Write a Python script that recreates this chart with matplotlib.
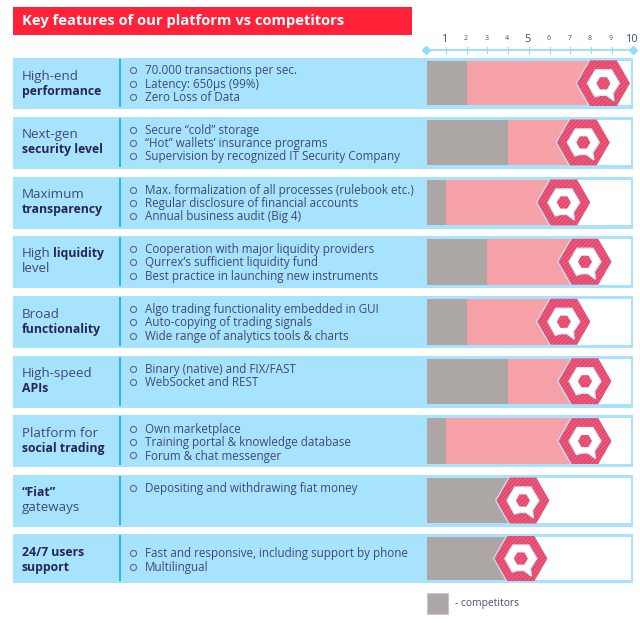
import numpy as np
import matplotlib
matplotlib.use("Agg")
import matplotlib.pyplot as plt
from matplotlib.patches import Polygon, Rectangle

# --- data ---
# each label is two lines of (text, bold?) runs
label_line1 = ["High-end", "Next-gen", "Maximum", "High", "Broad", "High-speed", "Platform for", "\u201cFiat\u201d", "24/7 users"]
label_line2 = ["performance", "security level", "transparency", "level", "functionality", "APIs", "social trading", "gateways", "support"]
line1_bold = [False, False, False, False, False, False, False, True, True]
line2_bold = [True, True, True, False, True, True, True, False, True]
bullets = [
    ["70.000 transactions per sec.", "Latency: 650\u00b5s (99%)", "Zero Loss of Data"],
    ["Secure \u201ccold\u201d storage", "\u201cHot\u201d wallets\u2019 insurance programs", "Supervision by recognized IT Security Company"],
    ["Max. formalization of all processes (rulebook etc.)", "Regular disclosure of financial accounts", "Annual business audit (Big 4)"],
    ["Cooperation with major liquidity providers", "Qurrex\u2019s sufficient liquidity fund", "Best practice in launching new instruments"],
    ["Algo trading functionality embedded in GUI", "Auto-copying of trading signals", "Wide range of analytics tools & charts"],
    ["Binary (native) and FIX/FAST", "WebSocket and REST"],
    ["Own marketplace", "Training portal & knowledge database", "Forum & chat messenger"],
    ["Depositing and withdrawing fiat money"],
    ["Fast and responsive, including support by phone", "Multilingual"],
]
competitors = [2, 4, 1, 3, 2, 4, 1, 4, 4]
platform = [8.6, 7.63, 6.69, 7.71, 6.69, 7.71, 7.71, 4.72, 4.62]
scale_ticks = list(range(1, 11))

W, H = 640, 623
BLUE = "#a8e3fd"
GRAY = "#aca7a5"
PINK = "#f6a0a8"
RED = "#e5486c"
SPECK = "#f08aa2"
INK = "#3f4a6e"
DARK = "#26264f"
plt.rcParams["font.family"] = ["Open Sans", "DejaVu Sans"]
plt.rcParams["hatch.linewidth"] = 0.3

row_tops = [58.3, 116.7, 176.7, 236, 296, 355.5, 415.3, 475, 534.3]
row_hs = [50.5, 52, 52, 52, 52, 52, 52, 51.5, 49]
first_bullet = [12, 13, 13, 13, 13, 13.5, 13.5, 13, 19]

fig = plt.figure(figsize=(W / 100, H / 100), dpi=100)
# page axes in pixels, used for the text and row backgrounds
page = fig.add_axes([0, 0, 1, 1])
page.set_xlim(0, W)
page.set_ylim(H, 0)
page.axis("off")

page.add_patch(Rectangle((13, 7), 399, 28, color="#ff2238", lw=0))
page.text(22, 21, "Key features of our platform vs competitors", color="white",
          fontsize=10.6, fontweight="bold", va="center")

for i, top in enumerate(row_tops):
    h = row_hs[i]
    page.add_patch(Rectangle((13, top), 620, h, color=BLUE, lw=0))
    page.plot([120, 120], [top + 2, top + h - 3], color="#29b6e8", lw=1.4)
    y1, y2 = top + 18, top + 33
    page.text(22, y1, label_line1[i], fontsize=8.8 if line1_bold[i] else 9.6,
              color=DARK if line1_bold[i] else INK,
              fontweight="bold" if line1_bold[i] else "normal", va="center")
    if i == 3:
        page.text(53.5, y1, "liquidity", fontsize=8.8, color=DARK, fontweight="bold", va="center")
    page.text(22, y2, label_line2[i], fontsize=8.8 if line2_bold[i] else 9.6,
              color=DARK if line2_bold[i] else INK,
              fontweight="bold" if line2_bold[i] else "normal", va="center")
    for j, line in enumerate(bullets[i]):
        y = top + first_bullet[i] + j * 13.3
        page.plot([133], [y], "o", ms=4.4, mfc="none", mec="#5c6885", mew=0.8)
        page.text(145, y + 0.6, line, fontsize=8.4, color=INK, va="center")

# legend swatch
page.add_patch(Rectangle((427, 593), 21, 21, facecolor=GRAY, edgecolor="#c8c8c8", lw=0.8))
page.text(455, 603.5, "- competitors", fontsize=7.4, color="#4a4a78", va="center")

# value axes: one unit is 20.75 px, 0 sits at x=425
PX0, UNIT = 425, 20.75
ax = fig.add_axes([PX0 / W, 0, UNIT * 10 / W, 1], sharey=page)
ax.patch.set_alpha(0)
ax.set_xlim(0, 10)
ax.axis("off")
bar_left = 2 / UNIT
white_right = 10 - 1.2 / UNIT

# logo shapes in px around the centre
angles = np.deg2rad(np.arange(0, 360, 60))
hex_unit = np.column_stack([np.cos(angles), np.sin(angles)])
ring_px = np.array([[-16, 0], [-8.5, 13.5], [-3, 12], [3, 12], [10.5, 17.5],
                    [9.5, 10], [16, 0], [8, -13.5], [-8, -13.5]])


def logo_patch(value, cy, pts, **kw):
    xy = np.column_stack([value + pts[:, 0] / UNIT, cy + pts[:, 1]])
    return ax.add_patch(Polygon(xy, closed=True, **kw))


for i, top in enumerate(row_tops):
    y0 = top + 3
    h = row_hs[i] - 6.5
    cy = y0 + h / 2
    ax.barh(cy, white_right - bar_left, left=bar_left, height=h, color="white", lw=0)
    ax.barh(cy, platform[i] - bar_left, left=bar_left, height=h, color=PINK, lw=0)
    ax.barh(cy, competitors[i] - bar_left, left=bar_left, height=h, color=GRAY, lw=0)

    clip = Rectangle((bar_left, y0 - 1), 10, h + 2, transform=ax.transData)
    under = logo_patch(platform[i] - 1 / UNIT, cy, hex_unit * 27, facecolor="#bfe6f7", lw=0, zorder=3)
    red = logo_patch(platform[i], cy, hex_unit * 26.5, facecolor=RED, edgecolor=SPECK,
                     hatch="////////", lw=0, zorder=4)
    under.set_clip_path(clip)
    red.set_clip_path(clip)
    logo_patch(platform[i], cy, ring_px, facecolor="white", edgecolor="#cdeefc", lw=1, zorder=5)
    logo_patch(platform[i], cy, hex_unit * 7, facecolor=RED, edgecolor=SPECK,
               hatch="////////", lw=0, zorder=6)

# scale on top
scale_y = 50
ax.plot([1 / UNIT, 10], [scale_y, scale_y], color="#8fdcfb", lw=1.2, clip_on=False)
ax.plot([1 / UNIT, 10], [scale_y, scale_y], "D", color="#8fdcfb", ms=3.8, clip_on=False)
for v in scale_ticks:
    ax.plot([v, v], [scale_y - 3, scale_y + 3], color="#8fdcfb", lw=0.8, clip_on=False)
    big = v in (1, 5, 10)
    ax.text(v - 0.05, 39, str(v), ha="center", va="center", color="#4a4a78",
            fontsize=8 if big else 5, clip_on=False)

fig.savefig("out.png", dpi=100)
